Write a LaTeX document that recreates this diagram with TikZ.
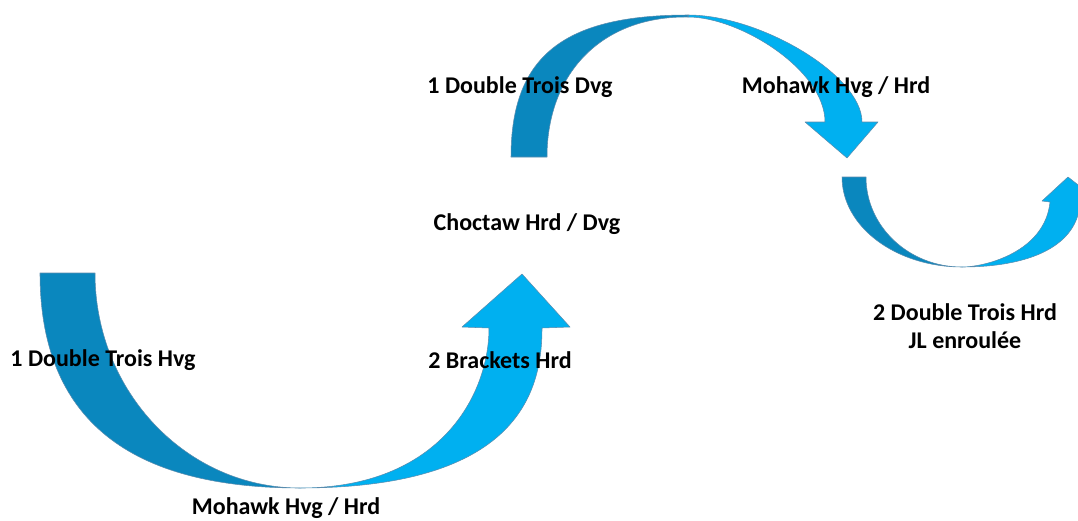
\documentclass[tikz,border=0pt]{standalone}
\usepackage{fontspec}
\setmainfont{Carlito}
\usetikzlibrary{calc}
\definecolor{arrowdark}{HTML}{0A87BE}
\definecolor{arrowlight}{HTML}{00B0F0}
\definecolor{arrowline}{HTML}{5A8CAE}
\tikzset{
	arrowedge/.style={draw=arrowline, line width=0.4pt, line join=round},
	steplabel/.style={font=\bfseries\fontsize{18}{21}\selectfont, align=center, inner sep=0pt}
}

\begin{document}
\begin{tikzpicture}[x=0.75pt, y=-0.75pt]
			%%%%% START %%%%%
			\useasboundingbox (0, 0) rectangle (1078, 521);
			\clip (0, 0) rectangle (1078, 521);
			
			% first arrow, down and up again
			\draw[arrowedge, fill=arrowlight] (300, 488) .. controls (520, 488) and (542, 390) .. (542, 328)
				-- (570, 327) -- (522, 274) -- (462, 327) -- (489, 328)
				.. controls (489, 395) and (440, 488) .. (300, 488) -- cycle;
			\draw[arrowedge, fill=arrowdark] (40, 273) .. controls (40, 420) and (130, 488) .. (300, 488)
				arc[start angle=90, end angle=180, x radius=205, y radius=215] -- cycle;
			
			% second arrow, over the top
			\draw[arrowedge, fill=arrowlight] (688, 15) .. controls (760, 15) and (862, 75) .. (862, 122)
				-- (878, 122) -- (847, 158) -- (805, 122) -- (825, 122)
				.. controls (825, 70) and (740, 17) .. (688, 17) -- cycle;
			\draw[arrowedge, fill=arrowdark] (511, 157) .. controls (511, 55) and (565, 15) .. (688, 15)
				-- (688, 17) .. controls (600, 16) and (547, 75) .. (547, 157) -- cycle;
			
			% third arrow, small one on the right
			\draw[arrowedge, fill=arrowlight] (962, 267) .. controls (1040, 267) and (1080, 240) .. (1080, 200)
				-- (1096, 199) -- (1068, 177) -- (1042, 201) -- (1050, 202)
				.. controls (1045, 252) and (985, 267) .. (962, 267) -- cycle;
			\draw[arrowedge, fill=arrowdark] (842, 177) arc[start angle=180, end angle=90, x radius=120, y radius=90]
				arc[start angle=90, end angle=180, x radius=96, y radius=90] -- cycle;
			
			% labels
			\node[steplabel] (dtHvg) at (103, 360) {1 Double Trois Hvg};
			\node[steplabel] (brkHrd) at (500, 360) {2 Brackets Hrd};
			\node[steplabel] (mohawkLow) at (286, 508) {Mohawk Hvg / Hrd};
			\node[steplabel] (dtDvg) at (520, 87) {1 Double Trois Dvg};
			\node[steplabel] (mohawkHigh) at (836, 87) {Mohawk Hvg / Hrd};
			\node[steplabel] (choctaw) at (527, 224) {Choctaw Hrd / Dvg};
			\node[steplabel] (dtHrd) at (965, 326) {2 Double Trois Hrd\\JL enroulée};
			
			%%%%% END %%%%%
\end{tikzpicture}
\end{document}
